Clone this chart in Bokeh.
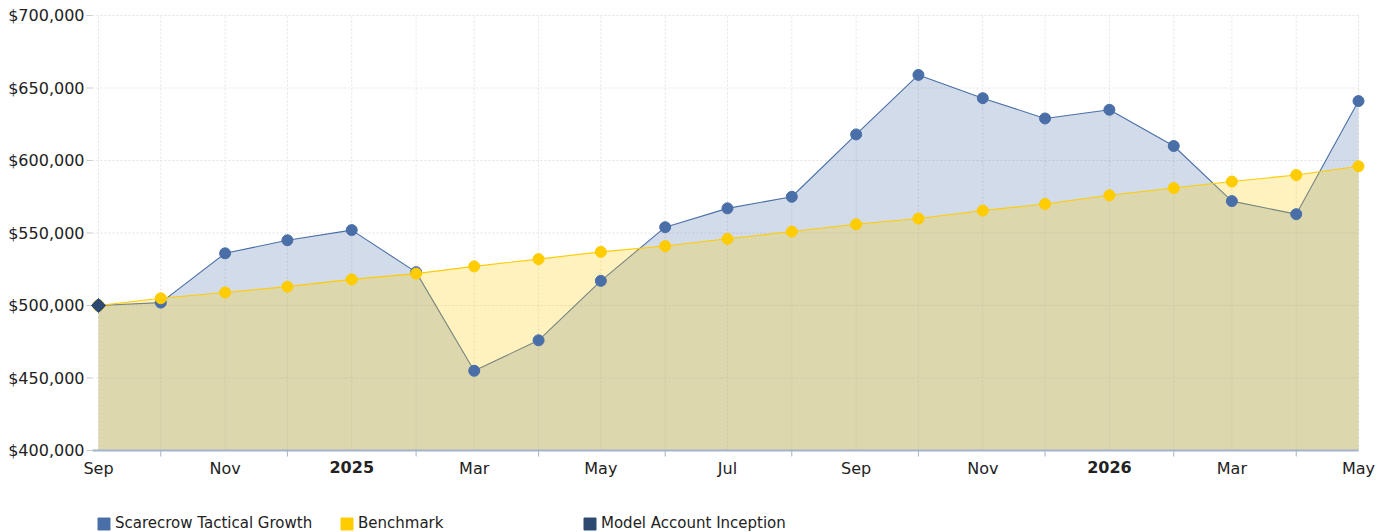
import math
from datetime import datetime
from bokeh.plotting import figure
from bokeh.models import ColumnDataSource, Legend, LegendItem, Range1d
from bokeh.core.properties import value
from bokeh.embed import file_html
from bokeh.resources import INLINE

# ---- data ----
months = ["2024-09", "2024-10", "2024-11", "2024-12", "2025-01", "2025-02", "2025-03",
          "2025-04", "2025-05", "2025-06", "2025-07", "2025-08", "2025-09", "2025-10",
          "2025-11", "2025-12", "2026-01", "2026-02", "2026-03", "2026-04", "2026-05"]
strategy = [500000, 502000, 536000, 545000, 552000, 523000, 455000, 476000, 517000,
            554000, 567000, 575000, 618000, 659000, 643000, 629000, 635000, 610000,
            572000, 563000, 641000]
benchmark = [500000, 505000, 509000, 513000, 518000, 522000, 527000, 532000, 537000,
             541000, 546000, 551000, 556000, 560000, 565500, 570000, 576000, 581000,
             585500, 590000, 596000]
inception_month = "2024-09"
inception_value = 500000
tick_label_months = ["2024-09", "2024-11", "2025-01", "2025-03", "2025-05", "2025-07",
                     "2025-09", "2025-11", "2026-01", "2026-03", "2026-05"]
tick_labels = ["Sep", "Nov", "2025", "Mar", "May", "Jul", "Sep", "Nov", "2026", "Mar", "May"]
bold_labels = ["2025", "2026"]
series_names = ["Scarecrow Tactical Growth", "Benchmark", "Model Account Inception"]
y_ticks = [400000, 450000, 500000, 550000, 600000, 650000, 700000]
y_min, y_max = 400000, 700000

# ---- styles / geometry (pixels) ----
FONT = "DejaVu Sans"
FS = "16px"
TXT = "#222222"
BLUE = "#4a6fa8"
YELLOW = "#ffcc00"
NAVY = "#2f4a70"
AXIS = "#a3b3cb"
GRID = "#e3e3e3"

W, H = 1377, 532
X0_PX, X1_PX = 98, 1358      # first / last month
YT_PX, YB_PX = 15, 450       # top / bottom of the value range


def to_ms(m):
    return datetime.strptime(m + "-01", "%Y-%m-%d").timestamp() * 1000.0


xs = [to_ms(m) for m in months]
mpp = (xs[-1] - xs[0]) / (X1_PX - X0_PX)
vpp = (y_max - y_min) / (YB_PX - YT_PX)
x_start = xs[0] - X0_PX * mpp
x_end = xs[-1] + (W - X1_PX) * mpp
y_start = y_min - (H - YB_PX) * vpp
y_end = y_max + YT_PX * vpp

src = ColumnDataSource(dict(x=xs, s=strategy, b=benchmark, base=[y_min] * len(xs)))

p = figure(width=W, height=H, x_axis_location=None, y_axis_location=None,
           min_border=0, output_backend="svg", toolbar_location=None,
           x_range=Range1d(x_start, x_end), y_range=Range1d(y_start, y_end))
p.outline_line_color = None
p.background_fill_color = "white"
p.border_fill_color = "white"
p.xgrid.visible = False
p.ygrid.visible = False

gx0 = xs[0] - 6 * mpp   # left end of the axis / grid lines

# grid lines restricted to the value area
p.segment(x0=xs, x1=xs, y0=[y_min] * len(xs), y1=[y_max] * len(xs),
          line_color=GRID, line_dash="2 2", line_width=1)
p.segment(x0=[gx0] * len(y_ticks), x1=[xs[-1]] * len(y_ticks), y0=y_ticks, y1=y_ticks,
          line_color=GRID, line_dash="2 2", line_width=1)

# areas and lines
p.varea(x="x", y1="base", y2="s", source=src, fill_color=BLUE, fill_alpha=0.25)
p.line(x="x", y="s", source=src, line_color=BLUE, line_width=1.1)
p.varea(x="x", y1="base", y2="b", source=src, fill_color=YELLOW, fill_alpha=0.25)
p.line(x="x", y="b", source=src, line_color=YELLOW, line_width=1.1)

# x axis drawn by hand (line, ticks, labels)
label_ms = [to_ms(m) for m in tick_label_months]
minor_ms = [x for x in xs if x not in label_ms]
p.segment(x0=[gx0], x1=[xs[-1]], y0=[y_min], y1=[y_min], line_color=AXIS, line_width=2)
p.segment(x0=minor_ms, x1=minor_ms, y0=[y_min] * len(minor_ms),
          y1=[y_min - 6 * vpp] * len(minor_ms), line_color=AXIS, line_width=1)
lab_src = ColumnDataSource(dict(
    x=label_ms, y=[y_min] * len(label_ms), t=tick_labels,
    fs=["bold" if t in bold_labels else "normal" for t in tick_labels],
    yo=[10 if t in bold_labels else 8 for t in tick_labels]))
p.text(x="x", y="y", text="t", source=lab_src, y_offset="yo",
       text_align="center", text_baseline="top", text_font=value(FONT),
       text_font_size=FS, text_font_style="fs", text_color=TXT)

# y axis drawn by hand (ticks, labels)
p.segment(x0=[xs[0] - 12 * mpp] * len(y_ticks), x1=[gx0] * len(y_ticks),
          y0=y_ticks, y1=y_ticks, line_color="#cccccc", line_width=1)
ylab_src = ColumnDataSource(dict(x=[xs[0]] * len(y_ticks), y=y_ticks,
                                 t=["${:,}".format(v) for v in y_ticks]))
p.text(x="x", y="y", text="t", source=ylab_src, x_offset=-14,
       text_align="right", text_baseline="middle", text_font=value(FONT),
       text_font_size=FS, text_color=TXT)

# markers
p.scatter(x="x", y="s", source=src, size=11, fill_color=BLUE, line_color=BLUE)
p.scatter(x="x", y="b", source=src, size=11, fill_color=YELLOW, line_color=YELLOW)
p.scatter(x=[to_ms(inception_month)], y=[inception_value], marker="square", size=10,
          angle=math.pi / 4, fill_color=NAVY, line_color=NAVY)

# legend: swatch renderers placed outside the visible range
off = [x_start - 1000 * mpp]
r1 = p.quad(left=off, right=off, top=[y_min], bottom=[y_min], fill_color=BLUE, line_color=BLUE)
r2 = p.quad(left=off, right=off, top=[y_min], bottom=[y_min], fill_color=YELLOW, line_color=YELLOW)
r3 = p.quad(left=off, right=off, top=[y_min], bottom=[y_min], fill_color=NAVY, line_color=NAVY)
legend = Legend(items=[LegendItem(label=series_names[0], renderers=[r1]),
                       LegendItem(label=series_names[1], renderers=[r2]),
                       LegendItem(label=series_names[2], renderers=[r3])],
                orientation="horizontal", location=(X0_PX - 2, 0),
                glyph_width=15, glyph_height=15, label_standoff=4,
                label_width=224, spacing=0, padding=0, margin=0,
                border_line_color=None, background_fill_alpha=0,
                label_text_font=FONT, label_text_font_size="15px",
                label_text_color=TXT, label_height=14)
p.add_layout(legend, "center")

open("out.html", "w").write(file_html(p, INLINE))
